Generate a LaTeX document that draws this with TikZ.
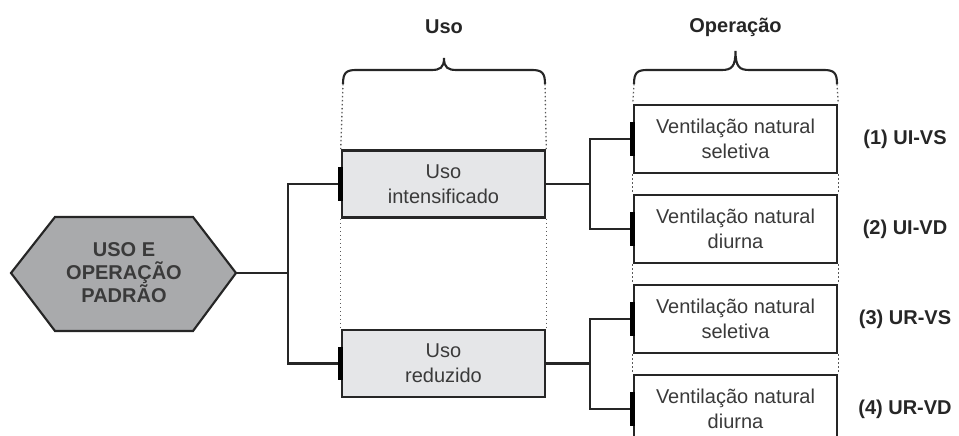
\documentclass[tikz,border=0pt]{standalone}
\usepackage{fontspec}
\setmainfont{Liberation Sans}
\definecolor{usofill}{HTML}{E5E6E8}
\definecolor{hexfill}{HTML}{A9AAAC}
\definecolor{txt}{HTML}{3A3A3A}
\definecolor{lin}{HTML}{262626}
\newcommand\fs{\fontsize{15}{18.75}\selectfont}
\newcommand\fsh{\fontsize{15}{17.2}\selectfont\bfseries}
\begin{document}
\begin{tikzpicture}[x=0.75pt,y=-0.75pt,
  conn/.style={line width=1.7pt, draw=lin},
  brc/.style={line width=1.6pt, draw=lin},
  dots/.style={dotted, line width=1pt, draw=black!65},
  tab/.style={line width=3.6pt, draw=black},
  usobox/.style={draw=lin, line width=1.9pt, fill=usofill, minimum width=152.25pt, minimum height=50.25pt, align=center, font=\fs, text=txt, inner sep=0pt},
  opbox/.style={draw=lin, line width=1.9pt, fill=white, minimum width=152.25pt, minimum height=51pt, align=center, font=\fs, text=txt, inner sep=0pt},
  lab/.style={font=\fs\bfseries, text=lin, inner sep=0pt},
  ttl/.style={font=\fs\bfseries, text=lin, inner sep=0pt}]
\useasboundingbox (0,0) rectangle (959,435);

% titles
\node[ttl] (tUso) at (444,27) {Uso};
\node[ttl] (tOp) at (735.5,27) {Operação};

% braces
\coordinate (bUL) at (343,84);
\coordinate (bUR) at (545,84);
\coordinate (bOL) at (634,84);
\coordinate (bOR) at (837,84);
\draw[brc] (bUL) .. controls (343,73) and (346,70) .. (356,70) -- (431,70)
  .. controls (440,70) and (444,68) .. (444,58)
  .. controls (444,68) and (448,70) .. (457,70) -- (532,70)
  .. controls (542,70) and (545,73) .. (bUR);
\draw[brc] (bOL) .. controls (634,73) and (637,70) .. (647,70) -- (721.5,70)
  .. controls (731.5,70) and (735.5,67) .. (735.5,51)
  .. controls (735.5,67) and (739.5,70) .. (749.5,70) -- (824,70)
  .. controls (834,70) and (837,73) .. (bOR);

% nodes
\node[usobox] (uso1) at (443.5,184) {Uso\\intensificado};
\node[usobox] (uso2) at (443.5,363.5) {Uso\\reduzido};
\node[opbox] (op1) at (735.5,139) {Ventilação natural\\seletiva};
\node[opbox] (op2) at (735.5,229) {Ventilação natural\\diurna};
\node[opbox] (op3) at (735.5,319) {Ventilação natural\\seletiva};
\node[opbox] (op4) at (735.5,409) {Ventilação natural\\diurna};

% dotted guides
\draw[dots] (bUL) -- (uso1.north west);
\draw[dots] (uso1.south west) -- (uso2.north west);
\draw[dots] (bUR) -- (uso1.north east);
\draw[dots] (uso1.south east) -- (uso2.north east);
\draw[dots] (bOL) -- (op1.north west);
\draw[dots] (op1.south west) -- (op2.north west);
\draw[dots] (op2.south west) -- (op3.north west);
\draw[dots] (op3.south west) -- (op4.north west);
\draw[dots] (bOR) -- (op1.north east);
\draw[dots] (op1.south east) -- (op2.north east);
\draw[dots] (op2.south east) -- (op3.north east);
\draw[dots] (op3.south east) -- (op4.north east);

% hexagon
\draw[line width=1.6pt, draw=lin, fill=hexfill] (11,273) -- (55,217) -- (193,217) -- (236,273) -- (193,331) -- (55,331) -- cycle;
\node[font=\fsh, text=txt, align=center, inner sep=0pt] (hex) at (124,273) {USO E\\OPERAÇÃO\\PADRÃO};
\coordinate (hexR) at (236,273);

% connectors
\draw[conn] (hexR) -- ++(52,0) coordinate (jA) |- (uso1.west);
\draw[conn] (jA) |- (uso2.west);
\draw[conn] (uso1.east) -- ++(44,0) coordinate (jB) |- (op1.west);
\draw[conn] (jB) |- (op2.west);
\draw[conn] (uso2.east) -- ++(44,0) coordinate (jC) |- (op3.west);
\draw[conn] (jC) |- (op4.west);

% tabs
\foreach \n in {uso1,uso2,op1,op2,op3,op4}
  \draw[tab] ([yshift=12.4pt]\n.west) -- ([yshift=-12.4pt]\n.west);

% labels
\node[lab] (l1) at (905,139) {(1) UI-VS};
\node[lab] (l2) at (905,229) {(2) UI-VD};
\node[lab] (l3) at (905,319) {(3) UR-VS};
\node[lab] (l4) at (905,409) {(4) UR-VD};
\end{tikzpicture}
\end{document}
